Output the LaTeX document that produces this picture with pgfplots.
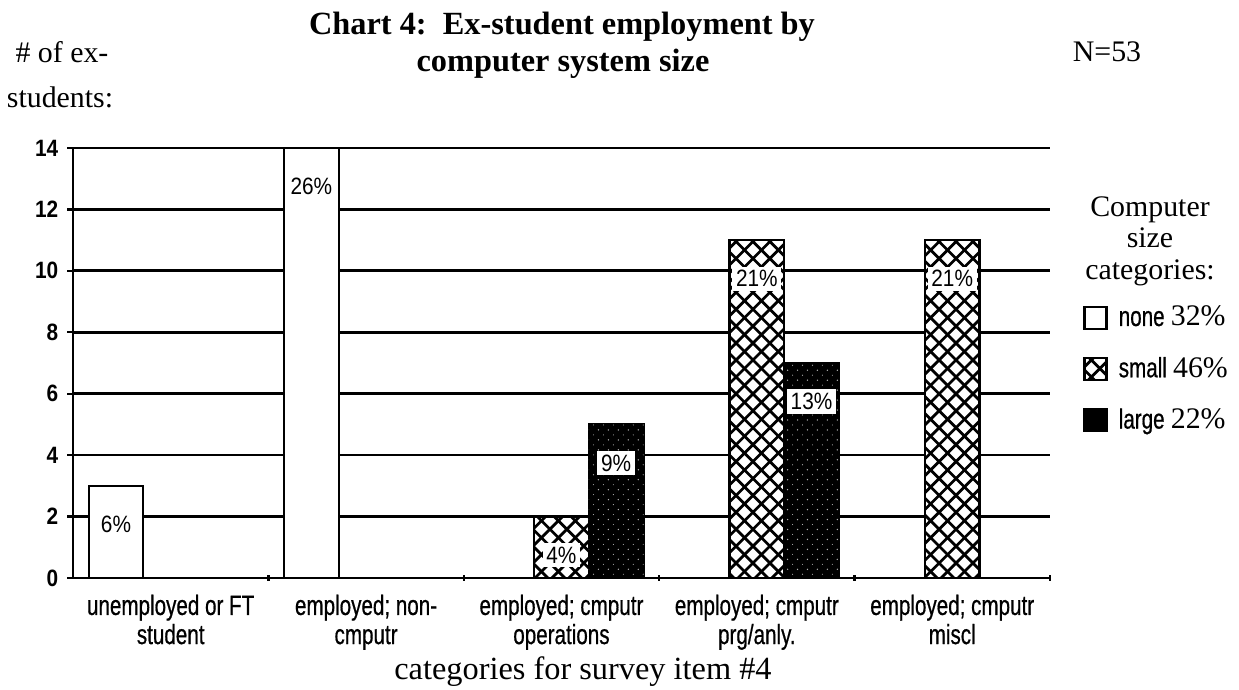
\documentclass[border=0pt]{standalone}
\usepackage{pgfplots}
\pgfplotsset{compat=1.18}
\usetikzlibrary{patterns}
\usepackage{fontspec}
\setmainfont{Liberation Serif}
\newfontfamily\narrowsans[FakeStretch=0.74,FakeBold=0.6]{Liberation Sans}
\newfontfamily\numsans[FakeStretch=0.88]{Liberation Sans}
\pgfdeclarepatternformonly{diagcross}{\pgfqpoint{-1pt}{-1pt}}{\pgfqpoint{7.8pt}{7.8pt}}{\pgfqpoint{6.8pt}{6.8pt}}{%
  \pgfsetlinewidth{1.1pt}%
  \pgfpathmoveto{\pgfqpoint{-0.2pt}{-0.2pt}}\pgfpathlineto{\pgfqpoint{7.0pt}{7.0pt}}%
  \pgfpathmoveto{\pgfqpoint{-0.2pt}{7.0pt}}\pgfpathlineto{\pgfqpoint{7.0pt}{-0.2pt}}%
  \pgfusepath{stroke}}
\pgfdeclarepatternformonly{sparsedots}{\pgfqpoint{-0.5pt}{-0.5pt}}{\pgfqpoint{4.5pt}{4.5pt}}{\pgfqpoint{4pt}{4pt}}{%
  \pgfpathcircle{\pgfqpoint{0.5pt}{0.5pt}}{0.3pt}%
  \pgfpathcircle{\pgfqpoint{2.5pt}{2.5pt}}{0.22pt}%
  \pgfusepath{fill}}
\pgfplotsset{sqlegend/.style={legend image code/.code={\path[##1] (0pt,-4.4pt) rectangle (8.8pt,4.4pt);}}}
\begin{document}
\begin{tikzpicture}
\begin{axis}[
  at={(0,0)}, anchor=south west,
  scale only axis, width=392.6pt, height=172.8pt,
  xmin=-0.5, xmax=4.5, ymin=0, ymax=14,
  axis x line*=bottom, axis y line*=left,
  axis line style={line width=1.1pt, black},
  ybar,
  ytick={0,2,...,14},
  ymajorgrids, grid style={line width=1.1pt, black},
  ytick align=outside, major tick length=2.4pt,
  tick style={line width=0.9pt, black},
  xtick={0.5,1.5,2.5,3.5,4.5},
  xtick align=center,
  xticklabels={{unemployed or FT\\student},{employed; non-\\cmputr},{employed; cmputr\\operations},{employed; cmputr\\prg/anly.},{employed; cmputr\\miscl}},
  x tick label style={font=\narrowsans\fontsize{11.2}{11.7}\selectfont, align=center, xshift=-39.26pt, yshift=-2pt},
  /pgf/number format/assume math mode=true,
  y tick label style={font=\numsans\bfseries\fontsize{9.5}{10}\selectfont},
  every node near coord/.append style={anchor=center, yshift=-15.5pt, fill=white, inner sep=1.5pt, font=\numsans\fontsize{9.5}{10}\selectfont},
  legend style={at={(1.0338,0.645)}, anchor=north west, draw=none, fill=none, inner sep=0pt, row sep=7pt, column sep=2.5pt, nodes={inner sep=2pt}},
  legend cell align=left,
]
% none
\addplot[bar width=0.28, bar shift=-0.28, draw=black, line width=0.9pt, fill=white, sqlegend,
  nodes near coords, point meta=explicit symbolic]
  coordinates {(0,3) [6\%] (1,14) [26\%]};
\addlegendentry{{\narrowsans\fontsize{11.2}{12}\selectfont none} {\fontsize{12}{13}\selectfont 32\%}}
% small: white background, then cross-hatch
\addplot[forget plot, bar width=0.28, bar shift=0, draw=none, fill=white]
  coordinates {(2,2) (3,11) (4,11)};
\addplot[bar width=0.28, bar shift=0, draw=black, line width=0.9pt, pattern=diagcross, pattern color=black, sqlegend,
  nodes near coords, point meta=explicit symbolic]
  coordinates {(2,2) [4\%] (3,11) [21\%] (4,11) [21\%]};
\addlegendentry{{\narrowsans\fontsize{11.2}{12}\selectfont small} {\fontsize{12}{13}\selectfont 46\%}}
% large: black, with faint white speckles
\addplot[bar width=0.28, bar shift=0.28, draw=black, line width=0.9pt, fill=black, sqlegend]
  coordinates {(2,5) (3,7)};
\addlegendentry{{\narrowsans\fontsize{11.2}{12}\selectfont large} {\fontsize{12}{13}\selectfont 22\%}}
\addplot[forget plot, bar width=0.28, bar shift=0.28, draw=none, pattern=sparsedots, pattern color=white!70!black,
  nodes near coords, point meta=explicit symbolic]
  coordinates {(2,5) [9\%] (3,7) [13\%]};
\end{axis}
\begin{scope}[x=0.40187pt, y=-0.40187pt, shift={(-73,-578)}]
  \node[anchor=base, font=\bfseries\fontsize{13}{15}\selectfont] at (562,35) {Chart 4:\ \ Ex-student employment by};
  \node[anchor=base, font=\bfseries\fontsize{13}{15}\selectfont] at (563,72) {computer system size};
  \node[anchor=base, font=\fontsize{12}{14}\selectfont] at (62,63) {\# of ex-};
  \node[anchor=base, font=\fontsize{12}{14}\selectfont] at (60,108) {students:};
  \node[anchor=base, font=\fontsize{12}{14}\selectfont] at (1107,62) {N=53};
  \node[anchor=base, font=\fontsize{13}{15}\selectfont] at (583,680) {categories for survey item \#4};
  \node[anchor=base, font=\fontsize{12}{14}\selectfont] at (1150,217) {Computer};
  \node[anchor=base, font=\fontsize{12}{14}\selectfont] at (1150,248) {size};
  \node[anchor=base, font=\fontsize{12}{14}\selectfont] at (1150,280) {categories:};
  \pgfresetboundingbox
  \path[use as bounding box] (0,0) rectangle (1239,690);
\end{scope}
\end{tikzpicture}
\end{document}
